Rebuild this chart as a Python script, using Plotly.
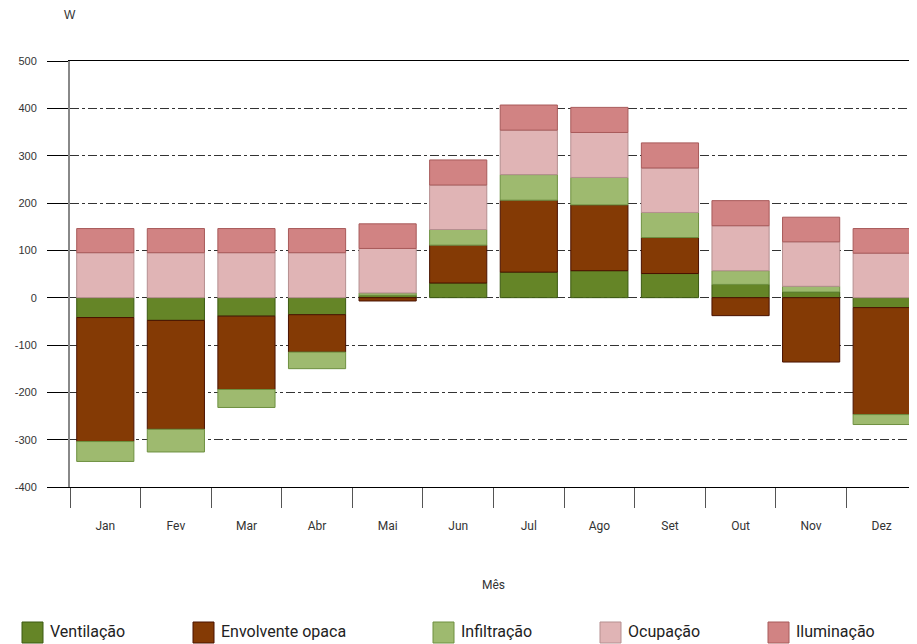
import plotly.graph_objects as go

months = ["Jan", "Fev", "Mar", "Abr", "Mai", "Jun", "Jul", "Ago", "Set", "Out", "Nov", "Dez"]

ventilacao = [-42, -48, -39, -36, 5, 31, 54, 57, 51, 28, 12, -21]
envolvente = [-262, -230, -155, -79, -7, 80, 152, 139, 76, -38, -136, -226]
infiltracao = [-42, -48, -38, -35, 5, 33, 54, 58, 53, 29, 12, -21]
ocupacao = [95, 95, 95, 95, 94, 94, 94, 95, 94, 95, 94, 94]
iluminacao = [51, 51, 51, 51, 52, 53, 53, 53, 53, 53, 52, 52]

series_names = ["Ventilação", "Envolvente opaca", "Infiltração", "Ocupação", "Iluminação"]
series_values = [ventilacao, envolvente, infiltracao, ocupacao, iluminacao]
fill_colors = ["#658527", "#843a05", "#9eba6f", "#e0b4b5", "#d18383"]
line_colors = ["#3c5a12", "#4a1200", "#6e9040", "#b58f90", "#a85a5a"]

y_ticks = [-400, -300, -200, -100, 0, 100, 200, 300, 400, 500]
y_tick_labels = ["-400", "-300", "-200", "-100", "0", "100", "200", "300", "400", "500"]

# legend entry left offsets (px from plot-area left edge)
legend_offsets = [-48, 123, 363, 530, 698]

fig = go.Figure()
for name, vals, fc, lc in zip(series_names, series_values, fill_colors, line_colors):
    fig.add_trace(go.Bar(
        x=months, y=vals, name=name, showlegend=False,
        marker=dict(color=fc, line=dict(color=lc, width=1)),
    ))

shapes = []
annotations = [
    dict(text="W", xref="paper", x=0, xanchor="center", yref="paper", y=1, yanchor="middle",
         yshift=46, showarrow=False,
         font=dict(family="Liberation Sans, Arial, sans-serif", size=12, color="#333333")),
    dict(text="Mês", xref="paper", x=0.5, xanchor="center", yref="paper", y=0, yanchor="middle",
         yshift=-98, showarrow=False,
         font=dict(family="Roboto, sans-serif", size=12, color="#333333")),
]
for name, fc, lc, off in zip(series_names, fill_colors, line_colors, legend_offsets):
    shapes.append(dict(
        type="rect", xref="paper", yref="paper", xsizemode="pixel", ysizemode="pixel",
        xanchor=0, yanchor=0, x0=off, x1=off + 21, y0=-156, y1=-135,
        fillcolor=fc, line=dict(color=lc, width=1),
    ))
    annotations.append(dict(
        text=name, xref="paper", x=0, xanchor="left", xshift=off + 26,
        yref="paper", y=0, yanchor="middle", yshift=-144, showarrow=False,
        font=dict(family="Roboto, sans-serif", size=16, color="#222222"),
    ))

fig.update_layout(
    width=917, height=644,
    margin=dict(l=62, r=8, t=53, b=165),
    barmode="relative",
    bargap=0.19,
    plot_bgcolor="white",
    paper_bgcolor="white",
    font=dict(family="Liberation Sans, Arial, sans-serif", size=11, color="#333333"),
    showlegend=False,
    xaxis=dict(
        type="category", automargin=False,
        showline=True, linecolor="#000000", linewidth=1, mirror=True,
        ticks="outside", tickson="boundaries", ticklen=20, tickcolor="#555555", tickwidth=1,
        tickfont=dict(family="Roboto, sans-serif", size=12, color="#333333"),
        ticklabelstandoff=28,
        showgrid=False,
    ),
    yaxis=dict(
        range=[-400, 500], tickvals=y_ticks, ticktext=y_tick_labels, automargin=False,
        showline=True, linecolor="#888888", linewidth=2,
        ticks="outside", ticklen=21, tickcolor="#000000", tickwidth=1,
        ticklabelstandoff=8,
        showgrid=True, gridcolor="#333333", gridwidth=1, griddash="dashdot",
        zeroline=False,
        tickfont=dict(family="Liberation Sans, Arial, sans-serif", size=11, color="#333333"),
    ),
    shapes=shapes,
    annotations=annotations,
)

fig.write_html("out.html")
